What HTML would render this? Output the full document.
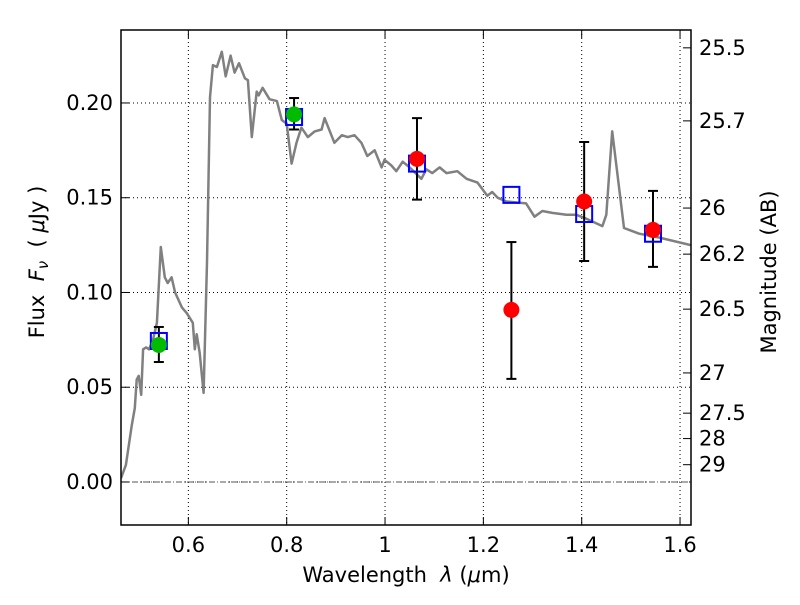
<!DOCTYPE html>
<html><head><meta charset="utf-8"><style>
body{margin:0;background:#fff}
svg text{font-family:"DejaVu Sans","Liberation Sans",sans-serif;fill:#000}
</style></head><body>
<svg id="chart" width="800" height="600" viewBox="0 0 800 600" xmlns="http://www.w3.org/2000/svg"></svg>
<script>
const xTicks=[0.6,0.8,1.0,1.2,1.4,1.6];
const xTickLabels=["0.6","0.8","1","1.2","1.4","1.6"];
const yTicks=[0,0.05,0.10,0.15,0.20];
const yTickLabels=["0.00","0.05","0.10","0.15","0.20"];
const magTicks=[25.5,25.7,26,26.2,26.5,27,27.5,28,29];
const magLabels=["25.5","25.7","26","26.2","26.5","27","27.5","28","29"];
const specX=[0.463,0.473,0.485,0.491,0.495,0.499,0.504,0.508,0.514,0.520,0.528,0.536,0.544,0.552,0.558,0.566,0.573,0.587,0.597,0.609,0.613,0.617,0.623,0.631,0.638,0.644,0.650,0.658,0.668,0.676,0.686,0.694,0.703,0.715,0.721,0.729,0.739,0.743,0.751,0.765,0.780,0.790,0.800,0.810,0.820,0.830,0.843,0.857,0.871,0.877,0.897,0.912,0.924,0.938,0.952,0.964,0.979,0.993,0.999,1.013,1.023,1.036,1.050,1.074,1.084,1.096,1.111,1.125,1.147,1.166,1.188,1.208,1.218,1.229,1.247,1.287,1.304,1.320,1.340,1.369,1.389,1.409,1.442,1.450,1.462,1.486,1.517,1.557,1.622];
const specY=[0.002,0.009,0.030,0.039,0.054,0.056,0.046,0.070,0.071,0.070,0.075,0.084,0.124,0.108,0.105,0.108,0.100,0.092,0.089,0.084,0.070,0.078,0.068,0.047,0.116,0.203,0.220,0.219,0.227,0.214,0.225,0.216,0.221,0.213,0.212,0.182,0.206,0.204,0.208,0.202,0.201,0.191,0.189,0.168,0.179,0.187,0.182,0.185,0.186,0.192,0.179,0.183,0.182,0.183,0.179,0.172,0.175,0.166,0.170,0.167,0.164,0.169,0.166,0.160,0.165,0.163,0.166,0.163,0.164,0.160,0.158,0.151,0.153,0.150,0.148,0.147,0.140,0.143,0.142,0.141,0.141,0.139,0.135,0.141,0.185,0.134,0.131,0.129,0.125];
const modelX=[0.54,0.815,1.065,1.257,1.405,1.545];
const modelY=[0.0744,0.1926,0.168,0.1515,0.1414,0.131];
const greenX=[0.54,0.815];
const greenY=[0.0723,0.194];
const greenLo=[0.0633,0.186];
const greenHi=[0.0818,0.2026];
const redX=[1.065,1.257,1.405,1.545];
const redY=[0.1705,0.0908,0.148,0.133];
const redLo=[0.149,0.0544,0.1166,0.1135];
const redHi=[0.192,0.1266,0.1794,0.1536];

const L=121,R=691,T=30,B=525;
const xMin=0.463,xMax=1.6223,yMin=-0.0227,yMax=0.2385;
const sx=v=>L+(v-xMin)/(xMax-xMin)*(R-L);
const sy=v=>B-(v-yMin)/(yMax-yMin)*(B-T);
const svg=document.getElementById('chart');
const NS='http://www.w3.org/2000/svg';
function mk(tag,attrs,parent){const e=document.createElementNS(NS,tag);for(const k in attrs)e.setAttribute(k,attrs[k]);(parent||svg).appendChild(e);return e;}

const clip=mk('clipPath',{id:'pc'});
mk('rect',{x:L,y:T,width:R-L,height:B-T},clip);

const grid=mk('g',{});


xTicks.forEach(v=>{mk('line',{x1:sx(v),x2:sx(v),y1:T,y2:B,stroke:'#000','stroke-width':1,'stroke-dasharray':'1,3'},grid);});
yTicks.forEach(v=>{mk('line',{x1:L,x2:R,y1:sy(v),y2:sy(v),stroke:'#000','stroke-width':1,'stroke-dasharray':'1,3'},grid);});

const zl=mk('line',{x1:L,x2:R,y1:sy(0),y2:sy(0),stroke:'#555','stroke-width':1,'stroke-dasharray':'6,2,1,2'});



let d='';specX.forEach((x,i)=>{d+=(i?'L':'M')+sx(x).toFixed(1)+','+sy(specY[i]).toFixed(1);});
const sp=mk('path',{d:d,fill:'none',stroke:'#808080','stroke-width':2.5,'stroke-linejoin':'round','clip-path':'url(#pc)'});



function errbar(x,lo,hi,name){const g=mk('g',{stroke:'#000','stroke-width':2});


mk('line',{x1:sx(x),x2:sx(x),y1:sy(lo),y2:sy(hi)},g);
mk('line',{x1:sx(x)-5,x2:sx(x)+5,y1:sy(lo),y2:sy(lo)},g);
mk('line',{x1:sx(x)-5,x2:sx(x)+5,y1:sy(hi),y2:sy(hi)},g);}
greenX.forEach((x,i)=>errbar(x,greenLo[i],greenHi[i],'green-errorbar'));
redX.forEach((x,i)=>errbar(x,redLo[i],redHi[i],'red-errorbar'));

modelX.forEach((x,i)=>{const r=mk('rect',{x:sx(x)-8,y:sy(modelY[i])-8,width:16,height:16,fill:'none',stroke:'#0000ff','stroke-width':2});

});
greenX.forEach((x,i)=>{const c=mk('circle',{cx:sx(x),cy:sy(greenY[i]),r:8,fill:'#00bb00'});

});
redX.forEach((x,i)=>{const c=mk('circle',{cx:sx(x),cy:sy(redY[i]),r:8,fill:'#ff0000'});

});

const fr=mk('rect',{x:L,y:T,width:R-L,height:B-T,fill:'none',stroke:'#000','stroke-width':1.5});



xTicks.forEach((v,i)=>{mk('line',{x1:sx(v),x2:sx(v),y1:B,y2:B-8,stroke:'#000'});mk('line',{x1:sx(v),x2:sx(v),y1:T,y2:T+8,stroke:'#000'});
const t=mk('text',{x:sx(v),y:B+27,'text-anchor':'middle','font-size':21});t.textContent=xTickLabels[i];

});
yTicks.forEach((v,i)=>{mk('line',{x1:L,x2:L+8,y1:sy(v),y2:sy(v),stroke:'#000'});
const t=mk('text',{x:L-8,y:sy(v)+7,'text-anchor':'end','font-size':21});t.textContent=yTickLabels[i];

});
magTicks.forEach((m,i)=>{const f=Math.pow(10,(23.9-m)/2.5);const y=sy(f);
mk('line',{x1:R,x2:R-8,y1:y,y2:y,stroke:'#000'});
const t=mk('text',{x:R+8,y:y+7,'font-size':21});t.textContent=magLabels[i];

});

const xt=mk('text',{x:406,y:582,'text-anchor':'middle','font-size':21});
xt.innerHTML='Wavelength &#160;<tspan font-style="italic">λ</tspan> (<tspan font-style="italic">μ</tspan>m)';


const yt=mk('text',{x:44,y:262,'text-anchor':'middle','font-size':21,transform:'rotate(-90 44 262)'});
yt.innerHTML='Flux &#160;<tspan font-style="italic">F</tspan><tspan font-style="italic" font-size="15" dy="4">ν</tspan><tspan dy="-4"> &#160;( </tspan><tspan font-style="italic">μ</tspan>Jy )';


const rt=mk('text',{x:776,y:272,'text-anchor':'middle','font-size':21,transform:'rotate(-90 776 272)'});
rt.textContent='Magnitude (AB)';


</script>
</body></html>
